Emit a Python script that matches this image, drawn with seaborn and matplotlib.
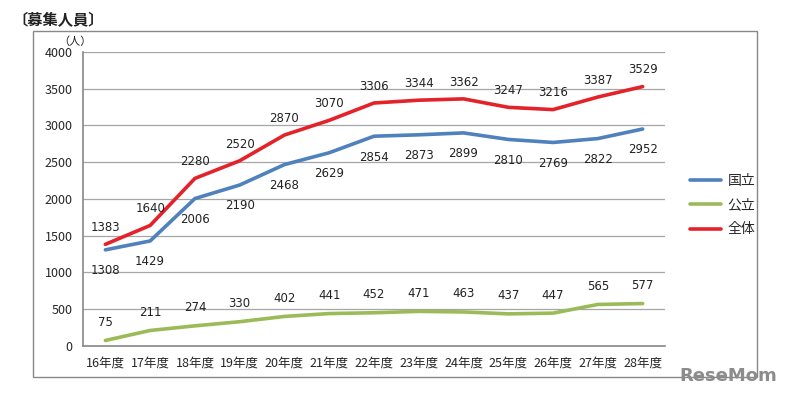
"""
募集人員の推移 (国立・公立・全体)
"""
import pandas as pd
import matplotlib.pyplot as plt
import seaborn as sns
from matplotlib.patches import Rectangle

years = ['16年度', '17年度', '18年度', '19年度', '20年度', '21年度', '22年度',
         '23年度', '24年度', '25年度', '26年度', '27年度', '28年度']
kokuritsu = [1308, 1429, 2006, 2190, 2468, 2629, 2854, 2873, 2899, 2810, 2769, 2822, 2952]
kouritsu = [75, 211, 274, 330, 402, 441, 452, 471, 463, 437, 447, 565, 577]
zentai = [1383, 1640, 2280, 2520, 2870, 3070, 3306, 3344, 3362, 3247, 3216, 3387, 3529]
series_names = ['国立', '公立', '全体']

colors = {'国立': '#4F81BD', '公立': '#9BBB59', '全体': '#E3222A'}

sns.set_style('white')
plt.rcParams['font.family'] = ['Noto Sans CJK JP', 'DejaVu Sans']

df = pd.DataFrame({'year': years, '国立': kokuritsu, '公立': kouritsu, '全体': zentai})
long_df = df.melt(id_vars='year', value_vars=series_names, var_name='区分', value_name='人数')
long_df['x'] = long_df['year'].map({y: i for i, y in enumerate(years)})

fig = plt.figure(figsize=(7.86, 3.98), dpi=100)
ax = fig.add_axes([0.1056, 0.1307, 0.7405, 0.7387])

sns.lineplot(data=long_df, x='x', y='人数', hue='区分', hue_order=series_names,
             palette=colors, linewidth=2.6, ax=ax, legend=False)

# data labels
offsets = {'国立': -15, '公立': 13, '全体': 12}
for name in series_names:
    for i, v in enumerate(df[name]):
        ax.annotate(f'{v}', (i, v), xytext=(0, offsets[name]), textcoords='offset points',
                    ha='center', va='center', fontsize=8.5, color='#222222',
                    family=['DejaVu Sans'])

ax.set_xlim(-0.5, len(years) - 0.5)
ax.set_ylim(0, 4000)
ax.set_yticks(range(0, 4001, 500))
ax.set_xticks(range(len(years)))
ax.set_xticklabels(years)
ax.set_xticks([i - 0.5 for i in range(len(years) + 1)], minor=True)
ax.tick_params(axis='x', which='major', length=0, labelsize=9, pad=8)
ax.tick_params(axis='x', which='minor', length=4, color='#888888', direction='out')
ax.tick_params(axis='y', length=4, color='#888888', labelsize=9, direction='out')
ax.set_xlabel('')
ax.set_ylabel('')
ax.grid(axis='y', color='#A6A6A6', linewidth=0.9)
ax.grid(axis='x', visible=False)
for side in ['top', 'right']:
    ax.spines[side].set_visible(False)
for side in ['left', 'bottom']:
    ax.spines[side].set_color('#888888')
    ax.spines[side].set_linewidth(1.2)

# legend
handles = [plt.Line2D([0], [0], color=colors[n], linewidth=2.6) for n in series_names]
fig.legend(handles, series_names, loc='center left', bbox_to_anchor=(0.862, 0.485),
           frameon=False, fontsize=10, handlelength=2.2, labelspacing=0.75, handletextpad=0.5)

# outer frame
fig.patches.append(Rectangle((33 / 786, 1 - 377 / 398), (757 - 33) / 786, (377 - 31) / 398,
                             transform=fig.transFigure, fill=False, edgecolor='#888888',
                             linewidth=1.0))

fig.text(12 / 786, 1 - 20 / 398, '〔募集人員〕', fontsize=11, fontweight='bold',
         va='center', ha='left', color='#222222')
fig.text(58 / 786, 1 - 42 / 398, '（人）', fontsize=8, va='center', ha='left', color='#222222')
fig.text(679 / 786, 1 - 376 / 398, 'ReseMom', fontsize=13, fontweight='bold',
         va='center', ha='left', color='#8C8C8C', family=['DejaVu Sans'])

fig.savefig('out.png', dpi=100)
